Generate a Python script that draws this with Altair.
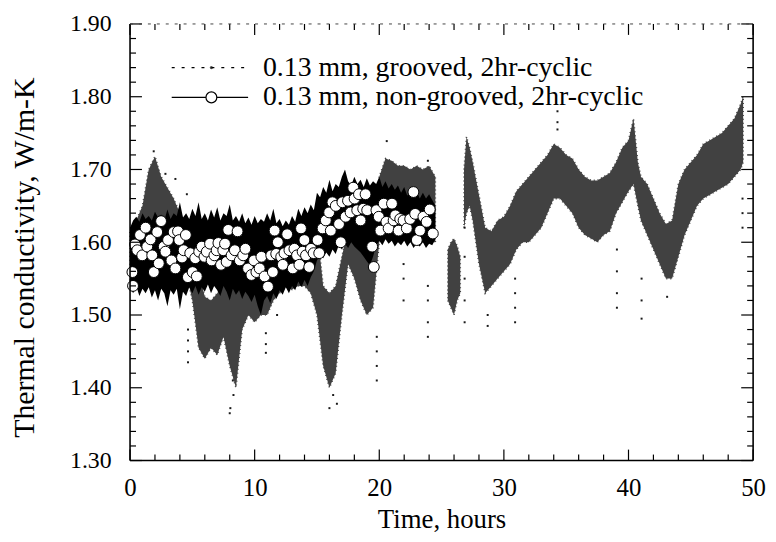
import altair as alt
import pandas as pd

FONT = "Liberation Serif"

# ---------------- non-grooved run: envelope of the dense black trace (every 0.25 h)
ng_time = [
    0.0, 0.25, 0.5, 0.75, 1.0, 1.25, 1.5, 1.75, 2.0, 2.25, 2.5, 2.75,
    3.0, 3.25, 3.5, 3.75, 4.0, 4.25, 4.5, 4.75, 5.0, 5.25, 5.5, 5.75,
    6.0, 6.25, 6.5, 6.75, 7.0, 7.25, 7.5, 7.75, 8.0, 8.25, 8.5, 8.75,
    9.0, 9.25, 9.5, 9.75, 10.0, 10.25, 10.5, 10.75, 11.0, 11.25, 11.5, 11.75,
    12.0, 12.25, 12.5, 12.75, 13.0, 13.25, 13.5, 13.75, 14.0, 14.25, 14.5, 14.75,
    15.0, 15.25, 15.5, 15.75, 16.0, 16.25, 16.5, 16.75, 17.0, 17.25, 17.5, 17.75,
    18.0, 18.25, 18.5, 18.75, 19.0, 19.25, 19.5, 19.75, 20.0, 20.25, 20.5, 20.75,
    21.0, 21.25, 21.5, 21.75, 22.0, 22.25, 22.5, 22.75, 23.0, 23.25, 23.5, 23.75,
    24.0, 24.25, 24.5,
]
ng_high = [
    1.620, 1.630, 1.635, 1.628, 1.640, 1.632, 1.636, 1.630, 1.642, 1.634, 1.638, 1.630,
    1.645, 1.632, 1.640, 1.636, 1.655, 1.634, 1.640, 1.632, 1.646, 1.636, 1.655, 1.632,
    1.640, 1.630, 1.645, 1.634, 1.648, 1.630, 1.640, 1.636, 1.652, 1.630, 1.636, 1.628,
    1.640, 1.626, 1.634, 1.624, 1.636, 1.626, 1.632, 1.628, 1.640, 1.630, 1.646, 1.626,
    1.632, 1.622, 1.630, 1.624, 1.636, 1.628, 1.646, 1.636, 1.648, 1.640, 1.652, 1.644,
    1.668, 1.662, 1.676, 1.668, 1.686, 1.670, 1.680, 1.676, 1.690, 1.700, 1.684, 1.678,
    1.690, 1.680, 1.686, 1.676, 1.688, 1.678, 1.684, 1.680, 1.690, 1.676, 1.684, 1.674,
    1.680, 1.672, 1.678, 1.668, 1.676, 1.664, 1.672, 1.662, 1.670, 1.660, 1.668, 1.660,
    1.666, 1.658, 1.650,
]
ng_low = [
    1.538, 1.530, 1.540, 1.526, 1.536, 1.530, 1.538, 1.524, 1.534, 1.520, 1.536, 1.530,
    1.512, 1.534, 1.528, 1.536, 1.508, 1.532, 1.526, 1.538, 1.530, 1.540, 1.528, 1.538,
    1.532, 1.542, 1.530, 1.540, 1.534, 1.526, 1.540, 1.532, 1.520, 1.536, 1.528, 1.534,
    1.522, 1.532, 1.526, 1.518, 1.528, 1.512, 1.500, 1.520, 1.526, 1.516, 1.530, 1.522,
    1.534, 1.528, 1.538, 1.530, 1.540, 1.534, 1.546, 1.538, 1.548, 1.540, 1.552, 1.560,
    1.575, 1.582, 1.578, 1.586, 1.580, 1.590, 1.584, 1.596, 1.590, 1.598, 1.592, 1.600,
    1.594, 1.590, 1.586, 1.580, 1.574, 1.568, 1.580, 1.596, 1.602, 1.596, 1.604, 1.598,
    1.602, 1.594, 1.600, 1.596, 1.602, 1.594, 1.600, 1.592, 1.598, 1.594, 1.600, 1.592,
    1.598, 1.596, 1.604,
]

# circle markers of the non-grooved run
c_time = [
    0.19, 0.24, 0.40, 0.58, 0.80, 0.98, 1.25, 1.38, 1.65, 1.78,
    1.91, 2.18, 2.31, 2.49, 2.71, 2.84, 3.05, 3.32, 3.50, 3.64,
    3.85, 3.95, 4.17, 4.30, 4.48, 4.64, 4.83, 5.02, 5.23, 5.36,
    5.55, 5.76, 5.97, 6.16, 6.42, 6.55, 6.77, 6.95, 7.09, 7.30,
    7.48, 7.62, 7.75, 7.88, 8.15, 8.41, 8.63, 8.81, 9.08, 9.26,
    9.47, 9.74, 9.95, 10.14, 10.40, 10.54, 10.80, 11.07, 11.33, 11.46,
    11.60, 11.73, 11.86, 12.13, 12.26, 12.39, 12.61, 12.79, 13.06, 13.19,
    13.40, 13.59, 13.72, 13.85, 13.99, 14.12, 14.38, 14.52, 14.73, 15.05,
    15.18, 15.45, 15.71, 15.98, 16.11, 16.24, 16.51, 16.77, 16.91, 17.04,
    17.30, 17.49, 17.70, 17.91, 18.02, 18.23, 18.37, 18.50, 18.71, 18.90,
    19.03, 19.43, 19.56, 19.77, 19.96, 20.09, 20.36, 20.57, 20.75, 21.02,
    21.15, 21.29, 21.55, 21.68, 21.95, 22.21, 22.48, 22.74, 22.88, 23.01,
    23.27, 23.54, 23.80, 24.05, 24.30,
]
c_val = [
    1.559, 1.540, 1.597, 1.589, 1.610, 1.582, 1.620, 1.594, 1.604, 1.582,
    1.559, 1.614, 1.571, 1.629, 1.594, 1.587, 1.603, 1.575, 1.614, 1.564,
    1.615, 1.603, 1.579, 1.589, 1.610, 1.552, 1.585, 1.559, 1.578, 1.553,
    1.587, 1.594, 1.580, 1.587, 1.598, 1.575, 1.582, 1.589, 1.599, 1.569,
    1.589, 1.598, 1.573, 1.617, 1.582, 1.589, 1.615, 1.575, 1.582, 1.591,
    1.564, 1.555, 1.575, 1.559, 1.564, 1.580, 1.553, 1.539, 1.582, 1.559,
    1.616, 1.584, 1.600, 1.580, 1.569, 1.585, 1.611, 1.589, 1.564, 1.591,
    1.582, 1.569, 1.619, 1.587, 1.603, 1.582, 1.566, 1.591, 1.585, 1.603,
    1.585, 1.619, 1.630, 1.641, 1.616, 1.655, 1.650, 1.625, 1.600, 1.655,
    1.635, 1.657, 1.641, 1.675, 1.660, 1.644, 1.666, 1.630, 1.646, 1.666,
    1.644, 1.594, 1.566, 1.644, 1.635, 1.616, 1.653, 1.628, 1.619, 1.653,
    1.630, 1.637, 1.616, 1.632, 1.630, 1.619, 1.632, 1.669, 1.639, 1.603,
    1.616, 1.635, 1.628, 1.645, 1.612,
]

# ---------------- grooved run: envelope of the speckled trace, three recorded stretches
g_time = [
    0.0, 0.5, 1.0, 1.5, 2.0, 2.5, 3.0, 3.5, 4.0, 4.5,
    5.0, 5.5, 6.0, 6.5, 7.0, 7.5, 8.0, 8.5, 9.0, 9.5,
    10.0, 10.5, 11.0, 11.5, 12.0, 12.5, 13.0, 13.5, 14.0, 14.5,
    15.0, 15.5, 16.0, 16.5, 17.0, 17.5, 18.0, 18.5, 19.0, 19.5,
    20.0, 20.5, 21.0, 21.5, 22.0, 22.5, 23.0, 23.5, 24.0, 24.5,
    25.5, 25.75, 26.0, 26.25, 26.5,
    26.8, 27.0, 27.25, 27.5, 28.0, 28.5, 29.0, 29.5, 30.0, 30.5,
    31.0, 31.5, 32.0, 32.5, 33.0, 33.5, 34.0, 34.5, 35.0, 35.5,
    36.0, 36.5, 37.0, 37.5, 38.0, 38.5, 39.0, 39.5, 40.0, 40.4,
    40.75, 41.0, 41.5, 42.0, 42.5, 43.0, 43.5, 44.0, 44.5, 45.0,
    45.5, 46.0, 46.5, 47.0, 47.5, 48.0, 48.5, 49.0, 49.2,
]
g_low = [
    1.545, 1.545, 1.560, 1.590, 1.600, 1.600, 1.590, 1.580, 1.570, 1.560,
    1.520, 1.455, 1.440, 1.455, 1.445, 1.470, 1.430, 1.400, 1.480, 1.500,
    1.490, 1.500, 1.500, 1.520, 1.530, 1.540, 1.535, 1.540, 1.540, 1.530,
    1.500, 1.430, 1.400, 1.420, 1.500, 1.570, 1.550, 1.520, 1.500, 1.510,
    1.600, 1.620, 1.620, 1.610, 1.610, 1.600, 1.600, 1.600, 1.600, 1.600,
    1.520, 1.510, 1.500, 1.520, 1.530,
    1.620, 1.640, 1.650, 1.630, 1.570, 1.530, 1.540, 1.550, 1.560, 1.570,
    1.590, 1.600, 1.600, 1.610, 1.620, 1.640, 1.660, 1.660, 1.650, 1.640,
    1.620, 1.610, 1.605, 1.600, 1.610, 1.615, 1.640, 1.655, 1.670, 1.680,
    1.650, 1.630, 1.610, 1.590, 1.570, 1.550, 1.550, 1.580, 1.610, 1.630,
    1.650, 1.660, 1.665, 1.670, 1.675, 1.680, 1.690, 1.700, 1.710,
]
g_high = [
    1.615, 1.630, 1.650, 1.700, 1.718, 1.690, 1.675, 1.660, 1.640, 1.625,
    1.600, 1.560, 1.525, 1.520, 1.530, 1.545, 1.560, 1.530, 1.560, 1.570,
    1.570, 1.575, 1.590, 1.600, 1.610, 1.615, 1.620, 1.630, 1.640, 1.640,
    1.620, 1.540, 1.530, 1.540, 1.580, 1.620, 1.610, 1.600, 1.600, 1.600,
    1.690, 1.715, 1.712, 1.705, 1.705, 1.700, 1.705, 1.700, 1.705, 1.690,
    1.590, 1.600, 1.605, 1.595, 1.580,
    1.700, 1.745, 1.730, 1.710, 1.665, 1.620, 1.615, 1.630, 1.635, 1.650,
    1.670, 1.680, 1.690, 1.700, 1.710, 1.720, 1.735, 1.730, 1.720, 1.715,
    1.700, 1.690, 1.685, 1.685, 1.690, 1.695, 1.710, 1.730, 1.740, 1.770,
    1.710, 1.690, 1.680, 1.660, 1.640, 1.625, 1.630, 1.680, 1.700, 1.710,
    1.720, 1.735, 1.740, 1.745, 1.750, 1.760, 1.770, 1.790, 1.800,
]
g_stretch = [1] * 50 + [2] * 5 + [3] * 49

# isolated grooved readings outside the envelope
o_time = [
    4.65, 4.65, 4.65, 4.65, 8.0, 8.05, 8.3, 8.25, 10.9, 10.9, 10.9, 11.8,
    16.0, 16.6, 16.3, 19.8, 19.8, 19.8, 19.8, 21.95, 21.95, 21.95,
    23.9, 23.9, 23.9, 23.9, 26.85, 26.85, 26.85, 26.85, 26.85, 28.7, 28.7,
    30.9, 30.9, 30.9, 30.9, 34.3, 34.3, 34.3, 39.07, 39.07, 39.07, 39.07,
    41.05, 41.05, 41.05, 43.1, 49.15, 49.15, 49.15,
    1.9, 2.84, 3.64, 4.56, 20.6, 23.9,
]
o_val = [
    1.480, 1.465, 1.450, 1.435, 1.365, 1.372, 1.390, 1.410, 1.475, 1.460, 1.448, 1.500,
    1.372, 1.378, 1.390, 1.470, 1.450, 1.430, 1.410, 1.570, 1.550, 1.520,
    1.540, 1.520, 1.490, 1.470, 1.620, 1.580, 1.550, 1.520, 1.490, 1.500, 1.485,
    1.550, 1.530, 1.510, 1.490, 1.780, 1.765, 1.755, 1.590, 1.560, 1.530, 1.510,
    1.550, 1.520, 1.495, 1.525, 1.660, 1.640, 1.620,
    1.725, 1.694, 1.687, 1.666, 1.739, 1.712,
]

series_names = ["0.13 mm, grooved, 2hr-cyclic", "0.13 mm, non-grooved, 2hr-cyclic"]

x_major = [0, 10, 20, 30, 40, 50]
x_minor = [2, 4, 6, 8, 12, 14, 16, 18, 22, 24, 26, 28, 32, 34, 36, 38, 42, 44, 46, 48]
y_major = [1.30, 1.40, 1.50, 1.60, 1.70, 1.80, 1.90]
y_minor = [1.32, 1.34, 1.36, 1.38, 1.42, 1.44, 1.46, 1.48, 1.52, 1.54, 1.56, 1.58,
           1.62, 1.64, 1.66, 1.68, 1.72, 1.74, 1.76, 1.78, 1.82, 1.84, 1.86, 1.88]

# ---------------- tables
ng_df = pd.DataFrame({"t": ng_time, "lo": ng_low, "hi": ng_high})
g_df = pd.DataFrame({"t": g_time, "lo": g_low, "hi": g_high, "stretch": g_stretch})
c_df = pd.DataFrame({"t": c_time, "v": c_val})
o_df = pd.DataFrame({"t": o_time, "v": o_val})
xmaj_df = pd.DataFrame({"t": x_major})
xmin_df = pd.DataFrame({"t": x_minor})
ymaj_df = pd.DataFrame({"v": y_major})
ymin_df = pd.DataFrame({"v": y_minor})
one = pd.DataFrame({"k": [0]})
leg_g = pd.DataFrame({"label": [series_names[0]]})
leg_ng = pd.DataFrame({"label": [series_names[1]]})

W, H = 628, 440

xscale = alt.Scale(domain=[0, 50], nice=False, zero=False)
yscale = alt.Scale(domain=[1.30, 1.90], nice=False, zero=False)
xaxis = alt.Axis(values=x_major, tickSize=0, domain=False, grid=False,
                 labelFont=FONT, labelFontSize=25, labelColor="black",
                 labelPadding=15, labelFlush=False, labelOverlap=False,
                 title="Time, hours", titleFont=FONT, titleFontSize=27,
                 titleFontWeight="normal", titleColor="black",
                 titleBaseline="alphabetic", titleY=68)
yaxis = alt.Axis(values=y_major, format=".2f", tickSize=0, domain=False, grid=False,
                 labelFont=FONT, labelFontSize=24, labelColor="black",
                 labelPadding=19, labelFlush=False, labelOverlap=False,
                 title="Thermal conductivity, W/m-K", titleFont=FONT, titleFontSize=30,
                 titleFontWeight="normal", titleColor="black",
                 titleAngle=270, titleBaseline="alphabetic", titleAlign="center",
                 titleX=-97, titleY=235)


def X(f):
    return alt.X(f, type="quantitative", scale=xscale, axis=xaxis)


def Y(f):
    return alt.Y(f, type="quantitative", scale=yscale, axis=yaxis)


grooved = alt.Chart(g_df).mark_area(color="black", opacity=0.74, stroke="black", strokeWidth=1.6,
                                    strokeDash=[1, 3], strokeOpacity=1,
                                    interpolate="linear").encode(
    x=X("t"), y=Y("lo"), y2="hi", detail="stretch:N")
outl = alt.Chart(o_df).mark_square(color="black", size=4, opacity=0.9).encode(x=X("t"), y=Y("v"))
band = alt.Chart(ng_df).mark_area(color="black", interpolate="linear").encode(
    x=X("t"), y=Y("lo"), y2="hi")
circles = alt.Chart(c_df).mark_point(shape="circle", filled=True, fill="white", stroke="black",
                                     strokeWidth=1, size=120, opacity=1).encode(x=X("t"), y=Y("v"))

# ---------------- key (drawn in the upper-left corner of the plot)
KX0, KX1, KXC, KXT = 42, 119, 82, 134
KY1, KY2 = 44, 74
key_line_g = alt.Chart(one).mark_rule(color="black", strokeWidth=1.3, strokeDash=[3, 7]).encode(
    x=alt.value(KX0), x2=alt.value(KX1), y=alt.value(KY1))
key_dot_g = alt.Chart(one).mark_point(shape="circle", filled=True, color="black", size=10).encode(
    x=alt.value(KXC), y=alt.value(KY1))
key_line_ng = alt.Chart(one).mark_rule(color="black", strokeWidth=1.4).encode(
    x=alt.value(KX0), x2=alt.value(KX1), y=alt.value(KY2))
key_dot_ng = alt.Chart(one).mark_point(shape="circle", filled=True, fill="white", stroke="black",
                                       strokeWidth=1.2, size=120, opacity=1).encode(
    x=alt.value(KXC), y=alt.value(KY2))
key_txt_g = alt.Chart(leg_g).mark_text(font=FONT, fontSize=28, align="left", baseline="middle",
                                       color="black").encode(
    x=alt.value(KXT), y=alt.value(KY1), text="label:N")
key_txt_ng = alt.Chart(leg_ng).mark_text(font=FONT, fontSize=28, align="left", baseline="middle",
                                         color="black").encode(
    x=alt.value(KXT), y=alt.value(KY2), text="label:N")

tick_style = dict(color="black", strokeWidth=1.2)
xt_maj_b = alt.Chart(xmaj_df).mark_rule(**tick_style).encode(x=X("t"), y=alt.value(H), y2=alt.value(H - 11))
xt_min_b = alt.Chart(xmin_df).mark_rule(**tick_style).encode(x=X("t"), y=alt.value(H), y2=alt.value(H - 6))
xt_maj_t = alt.Chart(xmaj_df).mark_rule(**tick_style).encode(x=X("t"), y=alt.value(0), y2=alt.value(11))
xt_min_t = alt.Chart(xmin_df).mark_rule(**tick_style).encode(x=X("t"), y=alt.value(0), y2=alt.value(6))
yt_maj_l = alt.Chart(ymaj_df).mark_rule(**tick_style).encode(y=Y("v"), x=alt.value(0), x2=alt.value(12))
yt_min_l = alt.Chart(ymin_df).mark_rule(**tick_style).encode(y=Y("v"), x=alt.value(0), x2=alt.value(6))
yt_maj_r = alt.Chart(ymaj_df).mark_rule(**tick_style).encode(y=Y("v"), x=alt.value(W), x2=alt.value(W - 12))
yt_min_r = alt.Chart(ymin_df).mark_rule(**tick_style).encode(y=Y("v"), x=alt.value(W), x2=alt.value(W - 6))

frame_l = alt.Chart(one).mark_rule(color="black", strokeWidth=1.6).encode(
    x=alt.value(0), y=alt.value(0), y2=alt.value(H))
frame_r = alt.Chart(one).mark_rule(color="black", strokeWidth=1.6).encode(
    x=alt.value(W), y=alt.value(0), y2=alt.value(H))
frame_b = alt.Chart(one).mark_rule(color="black", strokeWidth=1.6).encode(
    x=alt.value(0), x2=alt.value(W), y=alt.value(H))
frame_t = alt.Chart(one).mark_rule(color="#444", strokeWidth=1, strokeDash=[3, 6]).encode(
    x=alt.value(0), x2=alt.value(W), y=alt.value(0))

chart = alt.layer(
    grooved, outl, band, circles,
    key_line_g, key_dot_g, key_line_ng, key_dot_ng, key_txt_g, key_txt_ng,
    xt_maj_b, xt_min_b, xt_maj_t, xt_min_t, yt_maj_l, yt_min_l, yt_maj_r, yt_min_r,
    frame_l, frame_r, frame_b, frame_t,
).properties(
    width=W, height=H,
    padding={"left": 123, "top": 14, "right": 15, "bottom": 76},
    autosize=alt.AutoSizeParams(type="none"),
    background="white",
).configure_view(stroke=None)

chart.save("out.html", embed_options={"renderer": "svg", "actions": False})
